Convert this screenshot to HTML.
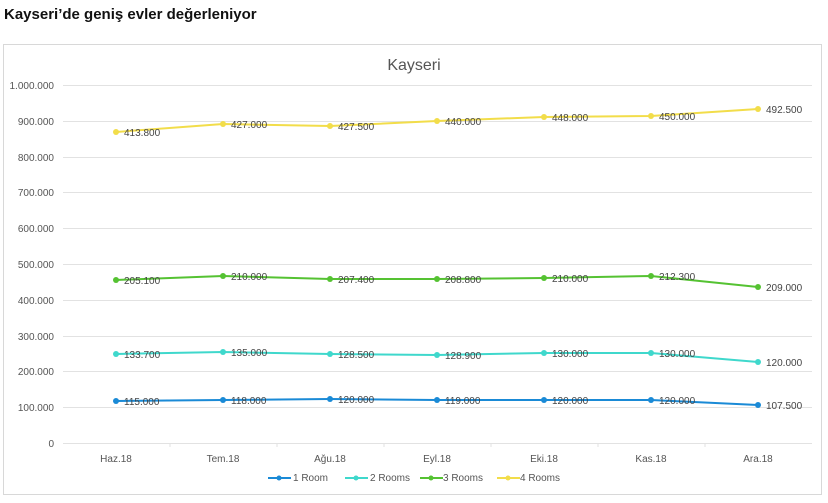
<!DOCTYPE html><html><head><meta charset="utf-8"><style>body{margin:0;background:#fff;width:828px;height:498px;overflow:hidden}</style></head><body>
<svg width="828" height="498" xmlns="http://www.w3.org/2000/svg" font-family="Liberation Sans, sans-serif">
<text x="4" y="19" font-size="15" font-weight="bold" fill="#111">Kayseri’de geniş evler değerleniyor</text>
<rect x="3.5" y="44.5" width="818" height="450" fill="#fff" stroke="#d8d8d8"/>
<text x="414" y="70" font-size="16" fill="#555" text-anchor="middle">Kayseri</text>
<g stroke="#e2e2e2" stroke-width="1">
<line x1="63" x2="812" y1="85.5" y2="85.5"/><line x1="63" x2="812" y1="121.5" y2="121.5"/><line x1="63" x2="812" y1="157.5" y2="157.5"/><line x1="63" x2="812" y1="192.5" y2="192.5"/><line x1="63" x2="812" y1="228.5" y2="228.5"/><line x1="63" x2="812" y1="264.5" y2="264.5"/><line x1="63" x2="812" y1="300.5" y2="300.5"/><line x1="63" x2="812" y1="336.5" y2="336.5"/><line x1="63" x2="812" y1="371.5" y2="371.5"/><line x1="63" x2="812" y1="407.5" y2="407.5"/><line x1="63" x2="812" y1="443.5" y2="443.5"/>
<line x1="170" x2="170" y1="443" y2="447"/><line x1="277" x2="277" y1="443" y2="447"/><line x1="384" x2="384" y1="443" y2="447"/><line x1="491" x2="491" y1="443" y2="447"/><line x1="598" x2="598" y1="443" y2="447"/><line x1="705" x2="705" y1="443" y2="447"/>
</g>
<g font-size="10" fill="#555" text-anchor="end">
<text x="54" y="89">1.000.000</text><text x="54" y="125">900.000</text><text x="54" y="161">800.000</text><text x="54" y="196">700.000</text><text x="54" y="232">600.000</text><text x="54" y="268">500.000</text><text x="54" y="304">400.000</text><text x="54" y="340">300.000</text><text x="54" y="375">200.000</text><text x="54" y="411">100.000</text><text x="54" y="447">0</text>
</g>
<g font-size="10" fill="#555" text-anchor="middle">
<text x="116" y="462">Haz.18</text><text x="223" y="462">Tem.18</text><text x="330" y="462">Ağu.18</text><text x="437" y="462">Eyl.18</text><text x="544" y="462">Eki.18</text><text x="651" y="462">Kas.18</text><text x="758" y="462">Ara.18</text>
</g>
<g stroke-width="2" fill="none">
<polyline stroke="#f2dd4a" points="116,132 223,124 330,126 437,121 544,117 651,116 758,109"/>
<polyline stroke="#55c232" points="116,280 223,276 330,279 437,279 544,278 651,276 758,287"/>
<polyline stroke="#3fd8cc" points="116,354 223,352 330,354 437,355 544,353 651,353 758,362"/>
<polyline stroke="#1a8ad6" points="116,401 223,400 330,399 437,400 544,400 651,400 758,405"/>
</g>
<g fill="#f2dd4a"><circle cx="116" cy="132" r="3"/><circle cx="223" cy="124" r="3"/><circle cx="330" cy="126" r="3"/><circle cx="437" cy="121" r="3"/><circle cx="544" cy="117" r="3"/><circle cx="651" cy="116" r="3"/><circle cx="758" cy="109" r="3"/></g>
<g fill="#55c232"><circle cx="116" cy="280" r="3"/><circle cx="223" cy="276" r="3"/><circle cx="330" cy="279" r="3"/><circle cx="437" cy="279" r="3"/><circle cx="544" cy="278" r="3"/><circle cx="651" cy="276" r="3"/><circle cx="758" cy="287" r="3"/></g>
<g fill="#3fd8cc"><circle cx="116" cy="354" r="3"/><circle cx="223" cy="352" r="3"/><circle cx="330" cy="354" r="3"/><circle cx="437" cy="355" r="3"/><circle cx="544" cy="353" r="3"/><circle cx="651" cy="353" r="3"/><circle cx="758" cy="362" r="3"/></g>
<g fill="#1a8ad6"><circle cx="116" cy="401" r="3"/><circle cx="223" cy="400" r="3"/><circle cx="330" cy="399" r="3"/><circle cx="437" cy="400" r="3"/><circle cx="544" cy="400" r="3"/><circle cx="651" cy="400" r="3"/><circle cx="758" cy="405" r="3"/></g>
<g font-size="10" fill="#444">
<text x="124" y="136">413.800</text><text x="231" y="128">427.000</text><text x="338" y="130">427.500</text><text x="445" y="125">440.000</text><text x="552" y="121">448.000</text><text x="659" y="120">450.000</text><text x="766" y="113">492.500</text>
<text x="124" y="284">205.100</text><text x="231" y="280">210.000</text><text x="338" y="283">207.400</text><text x="445" y="283">208.800</text><text x="552" y="282">210.000</text><text x="659" y="280">212.300</text><text x="766" y="291">209.000</text>
<text x="124" y="358">133.700</text><text x="231" y="356">135.000</text><text x="338" y="358">128.500</text><text x="445" y="359">128.900</text><text x="552" y="357">130.000</text><text x="659" y="357">130.000</text><text x="766" y="366">120.000</text>
<text x="124" y="405">115.000</text><text x="231" y="404">118.000</text><text x="338" y="403">120.000</text><text x="445" y="404">119.000</text><text x="552" y="404">120.000</text><text x="659" y="404">120.000</text><text x="766" y="409">107.500</text>
</g>
<g font-size="10" fill="#555" stroke-width="2">
<line x1="268" x2="291" y1="478" y2="478" stroke="#1a8ad6"/><circle cx="279" cy="478" r="2.5" fill="#1a8ad6"/><text x="293" y="481">1 Room</text>
<line x1="345" x2="368" y1="478" y2="478" stroke="#3fd8cc"/><circle cx="356" cy="478" r="2.5" fill="#3fd8cc"/><text x="370" y="481">2 Rooms</text>
<line x1="420" x2="443" y1="478" y2="478" stroke="#55c232"/><circle cx="431" cy="478" r="2.5" fill="#55c232"/><text x="443" y="481">3 Rooms</text>
<line x1="497" x2="520" y1="478" y2="478" stroke="#f2dd4a"/><circle cx="508" cy="478" r="2.5" fill="#f2dd4a"/><text x="520" y="481">4 Rooms</text>
</g>
</svg></body></html>
